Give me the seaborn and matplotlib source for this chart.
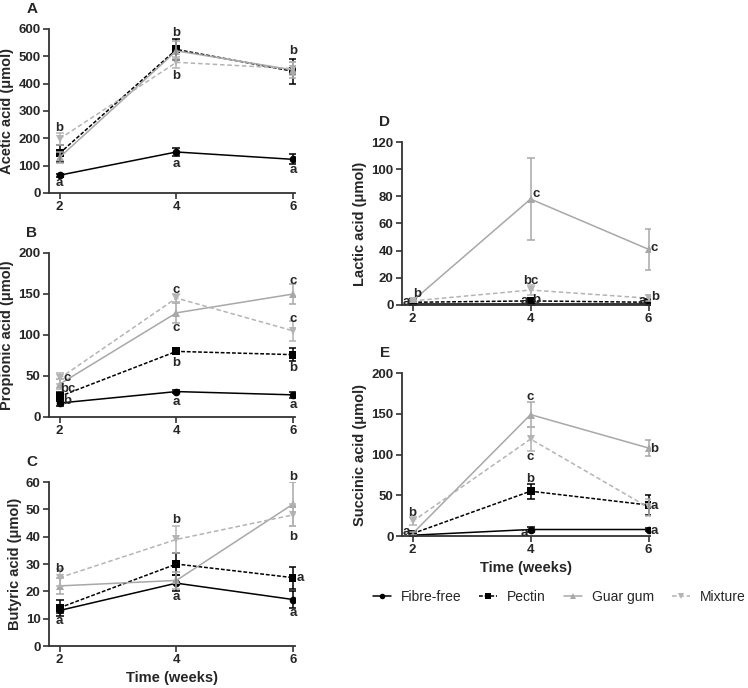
import numpy as np
import pandas as pd
import seaborn as sns
import matplotlib.pyplot as plt
from matplotlib.lines import Line2D

weeks = [2, 4, 6]
groups = ['Fibre-free', 'Pectin', 'Guar gum', 'Mixture']

# mean values per group (weeks 2, 4, 6) and error bars
acetic = {'Fibre-free': [65, 150, 123], 'Pectin': [145, 525, 445],
          'Guar gum': [130, 520, 450], 'Mixture': [198, 478, 455]}
acetic_err = {'Fibre-free': [5, 15, 18], 'Pectin': [30, 40, 45],
              'Guar gum': [20, 35, 30], 'Mixture': [22, 20, 25]}

propionic = {'Fibre-free': [17, 31, 27], 'Pectin': [25, 80, 76],
             'Guar gum': [40, 127, 150], 'Mixture': [47, 145, 105]}
propionic_err = {'Fibre-free': [3, 2, 4], 'Pectin': [5, 2, 8],
                 'Guar gum': [6, 12, 12], 'Mixture': [7, 5, 12]}

butyric = {'Fibre-free': [13, 23, 17], 'Pectin': [14, 30, 25],
           'Guar gum': [22, 24, 52], 'Mixture': [25, 39, 48]}
butyric_err = {'Fibre-free': [1, 3, 3], 'Pectin': [3, 4, 4],
               'Guar gum': [3, 3, 8], 'Mixture': [3, 5, 4]}

lactic = {'Fibre-free': [0.5, 0.5, 0.5], 'Pectin': [2, 3, 2],
          'Guar gum': [3, 78, 41], 'Mixture': [3, 11, 5]}
lactic_err = {'Fibre-free': [0.3, 0.3, 0.3], 'Pectin': [1, 2, 1],
              'Guar gum': [1, 30, 15], 'Mixture': [1, 4, 2]}

succinic = {'Fibre-free': [1, 8, 8], 'Pectin': [3, 55, 38],
            'Guar gum': [3, 149, 108], 'Mixture': [18, 119, 35]}
succinic_err = {'Fibre-free': [1, 3, 2], 'Pectin': [2, 9, 12],
                'Guar gum': [2, 15, 10], 'Mixture': [5, 15, 10]}

# significance letters: (week, y, text)
letters_a = [(2, 238, 'b'), (2, 37, 'a'), (4, 585, 'b'), (4, 429, 'b'), (4, 107, 'a'),
             (6, 518, 'b'), (6, 85, 'a')]
letters_b = [(2.13, 48, 'c'), (2.15, 34, 'bc'), (2.13, 20, 'b'), (4, 155, 'c'), (4, 108, 'c'),
             (4, 66, 'b'), (4, 18, 'a'), (6, 166, 'c'), (6, 120, 'c'), (6, 60, 'b'), (6, 15, 'a')]
letters_c = [(2, 28, 'b'), (2, 9, 'a'), (4, 46, 'b'), (4, 18, 'a'), (6, 62, 'b'), (6, 40, 'b'),
             (6.12, 25, 'a'), (6, 12, 'a')]
letters_d = [(1.9, 2.5, 'a'), (2.08, 8, 'b'), (4.1, 81.5, 'c'), (4, 18, 'bc'), (3.9, 3, 'a'),
             (4.1, 4, 'b'), (6.1, 41.6, 'c'), (6.12, 6, 'b'), (5.9, 3, 'a')]
letters_e = [(2, 28, 'b'), (1.9, 5, 'a'), (4, 170, 'c'), (4, 97, 'c'), (4, 70, 'b'), (3.9, 4, 'a'),
             (6.1, 107, 'b'), (6.1, 37, 'a'), (6.1, 6.5, 'a')]

sns.set_style('ticks')
plt.rcParams['font.family'] = ['Liberation Sans', 'DejaVu Sans']
plt.rcParams['font.weight'] = 'bold'

palette = {'Fibre-free': 'black', 'Pectin': 'black', 'Guar gum': '#a8a8a8', 'Mixture': '#b4b4b4'}
markers = {'Fibre-free': 'o', 'Pectin': 's', 'Guar gum': '^', 'Mixture': 'v'}
dashes = {'Fibre-free': '', 'Pectin': (2.5, 1.2), 'Guar gum': '', 'Mixture': (3, 1.8)}

fig = plt.figure(figsize=(7.48, 6.88), dpi=100)


def panel(rect, values, errs, ylim, yticks, ylabel, letters, tag, xlabel=False):
    ax = fig.add_axes(rect)
    rows = []
    for g in groups:
        for w, v, e in zip(weeks, values[g], errs[g]):
            rows.append({'week': w, 'value': v, 'err': e, 'group': g})
    df = pd.DataFrame(rows)
    sns.lineplot(data=df, x='week', y='value', hue='group', style='group',
                 palette=palette, markers=markers, dashes=dashes,
                 markersize=5.5, markeredgewidth=0, linewidth=1.1, ax=ax, legend=False)
    for g in groups:
        d = df[df['group'] == g]
        ax.errorbar(d['week'], d['value'], yerr=d['err'], fmt='none',
                    ecolor=palette[g], elinewidth=1.1, capsize=3, capthick=1.1)
    for x, y, t in letters:
        ax.text(x, y, t, ha='center', va='center', fontsize=9.5, fontweight='bold')
    ax.set_xlim(1.82, 6.03)
    ax.set_ylim(*ylim)
    ax.set_xticks(weeks)
    ax.set_yticks(yticks)
    ax.tick_params(labelsize=9.5, length=4, width=1.2, color='#333333', pad=2)
    for lab in ax.get_xticklabels() + ax.get_yticklabels():
        lab.set_fontweight('bold')
    sns.despine(ax=ax)
    for s in ['left', 'bottom']:
        ax.spines[s].set_linewidth(1.3)
        ax.spines[s].set_color('#333333')
    ax.set_ylabel(ylabel, fontsize=10.5, fontweight='bold', labelpad=3)
    ax.set_xlabel('Time (weeks)' if xlabel else '', fontsize=10.5, fontweight='bold', labelpad=3)
    ax.text(-0.07, 1.12, tag, transform=ax.transAxes, fontsize=11, fontweight='bold',
            ha='center', va='center')
    return ax


panel([0.0655, 0.7195, 0.329, 0.2384], acetic, acetic_err, (0, 600), range(0, 601, 100),
      'Acetic acid (μmol)', letters_a, 'A')
panel([0.0655, 0.3939, 0.329, 0.2384], propionic, propionic_err, (0, 200), range(0, 201, 50),
      'Propionic acid (μmol)', letters_b, 'B')
panel([0.0655, 0.0610, 0.329, 0.2384], butyric, butyric_err, (0, 60), range(0, 61, 10),
      'Butyric acid (μmol)', letters_c, 'C', xlabel=True)
panel([0.5374, 0.5567, 0.332, 0.2369], lactic, lactic_err, (0, 120), range(0, 121, 20),
      'Lactic acid (μmol)', letters_d, 'D')
panel([0.5374, 0.2209, 0.332, 0.2369], succinic, succinic_err, (0, 200), range(0, 201, 50),
      'Succinic acid (μmol)', letters_e, 'E', xlabel=True)

handles = [Line2D([], [], color=palette[g], marker=markers[g], markersize=4, markeredgewidth=0,
                  linewidth=1.1, linestyle='-' if dashes[g] == '' else (0, dashes[g]))
           for g in groups]
leg = fig.legend(handles, groups, loc='center right', bbox_to_anchor=(1.0, 0.132), ncol=4,
                 frameon=False, handlelength=1.3, columnspacing=1.3, handletextpad=0.7,
                 borderaxespad=0.1, borderpad=0.1, prop={'size': 10, 'weight': 'normal'})

fig.savefig('out.png', dpi=100)
